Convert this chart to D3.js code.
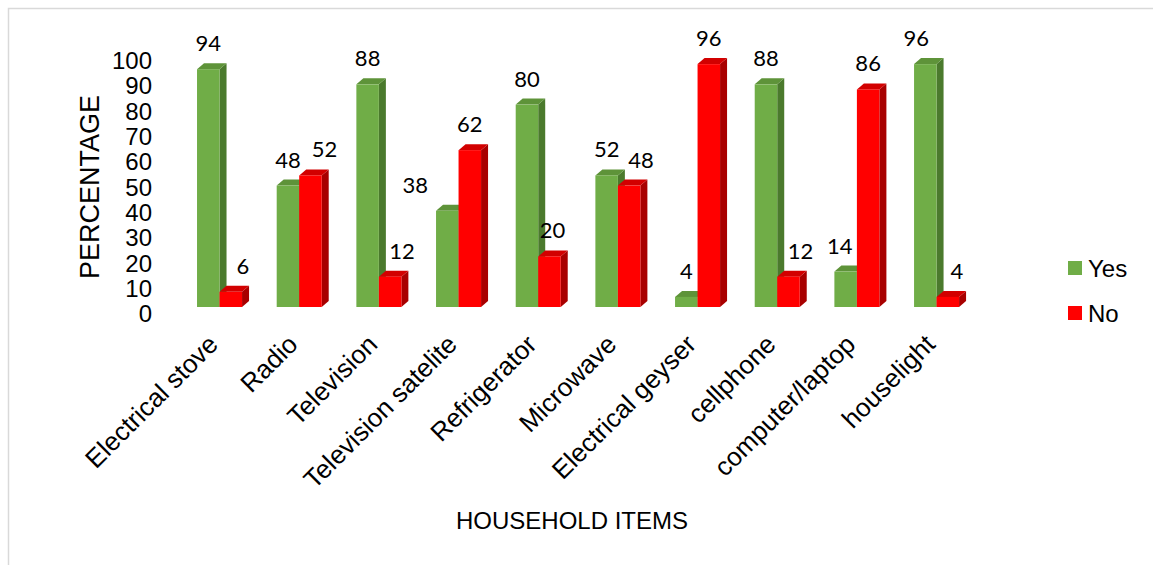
<!DOCTYPE html>
<html>
<head>
<meta charset="utf-8">
<script src="https://cdn.jsdelivr.net/npm/d3@7"></script>
<style>
  html, body { margin: 0; padding: 0; background: #fff; }
  svg { display: block; }
  text { font-family: "Liberation Sans", Arial, sans-serif; fill: #000; }
</style>
</head>
<body>
<svg id="chart" width="1153" height="565"></svg>
<script>
// Household items and the share of respondents who own each one
const categories = ["Electrical stove", "Radio", "Television", "Television satelite", "Refrigerator",
                    "Microwave", "Electrical geyser", "cellphone", "computer/laptop", "houselight"];
const yesValues = [94, 48, 88, 38, 80, 52, 4, 88, 14, 96];
const noValues  = [6, 52, 12, 62, 20, 48, 96, 12, 86, 4];
const seriesNames = ["Yes", "No"];
const yTicks = [0, 10, 20, 30, 40, 50, 60, 70, 80, 90, 100];

// Horizontal nudges for data labels that sit beside a neighbouring bar
const labelNudge = {
  "Electrical stove|No": 12, "Radio|No": 14, "Television|No": 12, "Television satelite|Yes": -32,
  "Refrigerator|No": 3, "Microwave|No": 12, "cellphone|No": 12, "computer/laptop|Yes": -6,
  "houselight|No": 9, "houselight|Yes": -9
};

const svg = d3.select("#chart");
const W = 1153, H = 565;

// Chart area frame (only top and left edges fall inside the page)
svg.append("path")
  .attr("d", `M8.5,${H} V8.5 H${W}`)
  .attr("fill", "none").attr("stroke", "#d9d9d9").attr("stroke-width", 1.5);

const colors = {
  Yes: { front: "#70ad47", top: "#5e9339", side: "#4b7a2d" },
  No:  { front: "#ff0000", top: "#d20000", side: "#a80000" }
};
const depthX = 7, depthY = 6;

const y = d3.scaleLinear().domain([0, 100]).range([307, 54]);
const x0 = d3.scaleBand().domain(categories).range([179.7, 976.4])
  .paddingInner(0.435).paddingOuter(0.2175);
const x1 = d3.scaleBand().domain(seriesNames).range([0, x0.bandwidth()]);

const rows = categories.map((c, i) => ({
  category: c,
  bars: [{ series: "Yes", value: yesValues[i] }, { series: "No", value: noValues[i] }]
}));

// Y axis labels (no line, no ticks)
const yAxis = svg.append("g")
  .attr("transform", "translate(152,7)")
  .call(d3.axisLeft(y).tickValues(yTicks).tickSize(0).tickPadding(0));
yAxis.select(".domain").remove();
yAxis.selectAll("text")
  .style("font-family", '"Liberation Sans", Arial, sans-serif')
  .style("font-size", "24px").attr("fill", "#000");

svg.append("text")
  .attr("transform", "translate(99,187) rotate(-90)")
  .attr("text-anchor", "middle")
  .style("font-size", "27px")
  .text("PERCENTAGE");

// 3D bars: front face, top face and right side face
const groups = svg.append("g").selectAll("g.cat").data(rows).join("g")
  .attr("class", "cat")
  .attr("transform", d => `translate(${x0(d.category)},0)`);

groups.each(function (row) {
  const g = d3.select(this);
  row.bars.forEach(b => {
    const xl = x1(b.series), w = x1.bandwidth();
    const yt = y(b.value), yb = y(0);
    const c = colors[b.series];
    const bar = g.append("g");
    bar.append("path")
      .attr("d", `M${xl + w},${yt} L${xl + w + depthX},${yt - depthY} L${xl + w + depthX},${yb - depthY} L${xl + w},${yb} Z`)
      .attr("fill", c.side);
    bar.append("path")
      .attr("d", `M${xl},${yt} L${xl + depthX},${yt - depthY} L${xl + w + depthX},${yt - depthY} L${xl + w},${yt} Z`)
      .attr("fill", c.top);
    bar.append("rect")
      .attr("x", xl).attr("y", yt).attr("width", w).attr("height", yb - yt)
      .attr("fill", c.front);
  });
});

// Value labels above each bar
groups.each(function (row) {
  const g = d3.select(this);
  row.bars.forEach(b => {
    const nudge = labelNudge[row.category + "|" + b.series] || 0;
    g.append("text")
      .attr("x", x1(b.series) + x1.bandwidth() / 2 + nudge)
      .attr("y", y(b.value) - depthY - 12)
      .attr("text-anchor", "middle")
      .style("font-family", "Lato, sans-serif")
      .style("font-size", "22px")
      .text(b.value);
  });
});

// Category labels, rotated
svg.append("g").selectAll("text").data(categories).join("text")
  .attr("transform", d => `translate(${x0(d) + x0.bandwidth() / 2},346) rotate(-45)`)
  .attr("text-anchor", "end")
  .style("font-size", "26px")
  .text(d => d);

svg.append("text")
  .attr("x", 572).attr("y", 529)
  .attr("text-anchor", "middle")
  .style("font-size", "24px")
  .text("HOUSEHOLD ITEMS");

// Legend
const legend = svg.append("g").selectAll("g").data(seriesNames).join("g")
  .attr("transform", (d, i) => `translate(1068,${261 + i * 45})`);
legend.append("rect").attr("width", 14).attr("height", 14).attr("fill", d => colors[d].front);
legend.append("text").attr("x", 20).attr("y", 16).style("font-size", "24px").text(d => d);
</script>
</body>
</html>
